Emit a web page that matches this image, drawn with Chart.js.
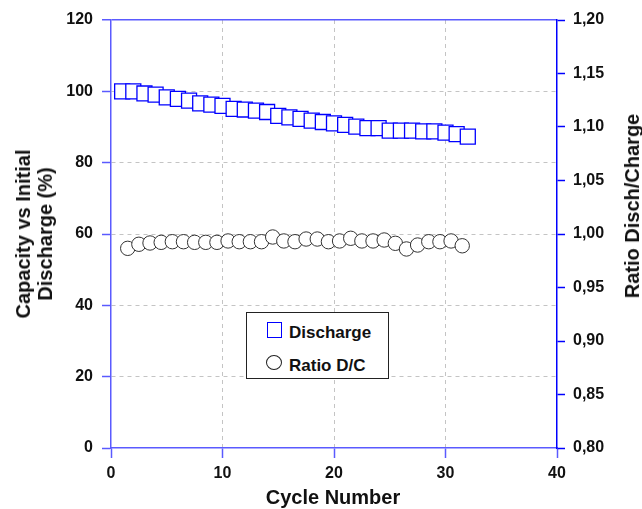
<!DOCTYPE html>
<html>
<head>
<meta charset="utf-8">
<script src="https://cdn.jsdelivr.net/npm/chart.js@4/dist/chart.umd.min.js"></script>
<style>
  body { margin: 0; background: #fff; }
  #wrap { position: relative; width: 642px; height: 509px; font-family: "Liberation Sans", Arial, sans-serif; font-weight: bold; color: #111; }
  .title { position: absolute; white-space: nowrap; text-align: center; }
  #legend { position: absolute; left: 246px; top: 312px; width: 143px; height: 67px; border: 1.5px solid #222; box-sizing: border-box; background: #fff; }
  .lg-text { position: absolute; left: 42px; font-size: 17px; line-height: 20px; }
  .lg-sym { position: absolute; box-sizing: border-box; }
</style>
</head>
<body>
<div id="wrap">
  <canvas id="chart" width="642" height="509"></canvas>
  <div class="title" style="left:34px; top:234px; font-size:20px; line-height:22px; transform:translate(-50%,-50%) rotate(-90deg);">Capacity vs Initial<br>Discharge (%)</div>
  <div class="title" style="left:632px; top:206px; font-size:20px; line-height:22px; transform:translate(-50%,-50%) rotate(-90deg);">Ratio Disch/Charge</div>
  <div class="title" style="left:333px; top:497px; font-size:20px; line-height:22px; transform:translate(-50%,-50%);">Cycle Number</div>
  <div id="legend">
    <div class="lg-sym" style="left:20px; top:9px; width:15px; height:16px; border:1.5px solid #0000ff;"></div>
    <div class="lg-text" style="top:10px;">Discharge</div>
    <div class="lg-sym" style="left:19px; top:42px; width:16px; height:15px; border:1px solid #222; border-radius:50%;"></div>
    <div class="lg-text" style="top:43px;">Ratio D/C</div>
  </div>
</div>
<script>
// discharge capacity (% of first discharge) per cycle
const cycles = [1, 2, 3, 4, 5, 6, 7, 8, 9, 10, 11, 12, 13, 14, 15, 16,
  17, 18, 19, 20, 21, 22, 23, 24, 25, 26, 27, 28, 29, 30, 31, 32];
const dischargePct = [100.0, 100.0, 99.4, 99.1, 98.3, 97.9, 97.4, 96.6, 96.3, 95.9, 95.1, 94.9, 94.6, 94.2, 93.1, 92.7,
  92.3, 91.8, 91.4, 91.0, 90.6, 90.1, 89.7, 89.7, 89.0, 89.0, 89.0, 88.8, 88.8, 88.4, 88.0, 87.3];

// discharge / charge ratio, plotted between cycles
const ratioCycles = [1.5, 2.5, 3.5, 4.5, 5.5, 6.5, 7.5, 8.5, 9.5, 10.5, 11.5, 12.5, 13.5, 14.5, 15.5, 16.5,
  17.5, 18.5, 19.5, 20.5, 21.5, 22.5, 23.5, 24.5, 25.5, 26.5, 27.5, 28.5, 29.5, 30.5, 31.5];
const ratioDC = [0.9866, 0.9904, 0.9916, 0.9922, 0.9928, 0.9928, 0.9922, 0.9922, 0.9922, 0.9935, 0.9928, 0.9928, 0.9928, 0.9972, 0.9935, 0.9928,
  0.9953, 0.9953, 0.9928, 0.9935, 0.9960, 0.9935, 0.9935, 0.9944, 0.9913, 0.9860, 0.9897, 0.9928, 0.9928, 0.9935, 0.9890];

const leftBlue = '#5a5aff';
const rightBlue = '#0000ff';
const gridGray = '#c4c4c4';
const tickFont = { family: 'Liberation Sans', size: 16, weight: 'bold' };

function toPoints(xs, ys){
  return xs.map((x, i) => ({ x: x, y: ys[i] }));
}

const ctx = document.getElementById('chart');

new Chart(ctx, {
  type: 'scatter',
  data: {
    datasets: [
      {
        label: 'Discharge',
        data: toPoints(cycles, dischargePct),
        yAxisID: 'y',
        pointStyle: 'rect',
        pointRadius: 10.6,
        pointHoverRadius: 10.6,
        borderColor: rightBlue,
        backgroundColor: '#ffffff',
        borderWidth: 1.3
      },
      {
        label: 'Ratio D/C',
        data: toPoints(ratioCycles, ratioDC),
        yAxisID: 'y1',
        pointStyle: 'circle',
        pointRadius: 7.2,
        pointHoverRadius: 7.2,
        borderColor: '#333333',
        backgroundColor: '#ffffff',
        borderWidth: 1
      }
    ]
  },
  options: {
    responsive: false,
    animation: false,
    devicePixelRatio: 1,
    layout: { padding: { top: 20, left: 0, right: 0, bottom: 0 } },
    plugins: { legend: { display: false }, tooltip: { enabled: false } },
    elements: { point: { hitRadius: 0 } },
    scales: {
      x: {
        type: 'linear',
        position: 'bottom',
        min: 0,
        max: 40,
        afterFit: s => { s.height = 61; },
        ticks: { stepSize: 10, font: tickFont, color: '#111', padding: 6 },
        grid: {
          color: c => (c.tick && (c.tick.value === 0 || c.tick.value === 40)) ? 'rgba(0,0,0,0)' : gridGray,
          lineWidth: 1,
          tickColor: leftBlue,
          tickLength: 10,
          tickWidth: 1.5,
          tickBorderDash: []
        },
        border: { color: leftBlue, width: 1.5, dash: [4, 4] }
      },
      y: {
        position: 'left',
        min: 0,
        max: 120,
        afterFit: s => { s.width = 111; },
        ticks: { stepSize: 20, font: tickFont, color: '#111', padding: 9 },
        grid: {
          color: c => {
            if (!c.tick) return gridGray;
            if (c.tick.value === 0) return 'rgba(0,0,0,0)';
            if (c.tick.value === 120) return leftBlue;
            return gridGray;
          },
          lineWidth: c => (c.tick && c.tick.value === 120) ? 1.5 : 1,
          tickColor: leftBlue,
          tickLength: 9,
          tickWidth: 1.5,
          tickBorderDash: []
        },
        border: {
          color: leftBlue,
          width: 1.5,
          dash: c => (c.tick && c.tick.value === 120) ? [] : [4, 4]
        }
      },
      y1: {
        position: 'right',
        min: 0.8,
        max: 1.2,
        afterFit: s => { s.width = 85; },
        ticks: {
          stepSize: 0.05,
          font: tickFont,
          color: '#111',
          padding: 8,
          callback: v => v.toFixed(2).replace('.', ',')
        },
        grid: {
          drawOnChartArea: false,
          tickColor: rightBlue,
          tickLength: 8,
          tickWidth: 1.5
        },
        border: { color: rightBlue, width: 1.5 }
      }
    }
  }
});
</script>
</body>
</html>
